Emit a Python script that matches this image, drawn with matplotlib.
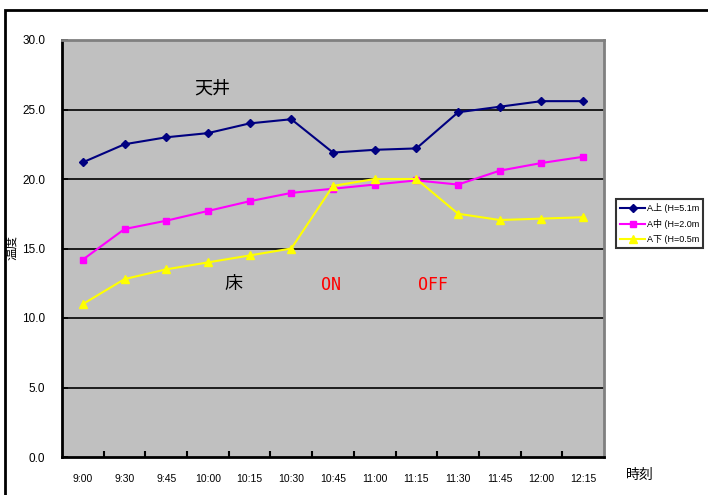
import matplotlib
matplotlib.use('Agg')
import matplotlib.pyplot as plt
from matplotlib.patches import Rectangle

plt.rcParams['font.family'] = ['Liberation Sans', 'Noto Sans CJK JP', 'DejaVu Sans']

### Data
times = ['9:00', '9:30', '9:45', '10:00', '10:15', '10:30', '10:45',
         '11:00', '11:15', '11:30', '11:45', '12:00', '12:15']
a_top = [21.2, 22.5, 23.0, 23.3, 24.0, 24.3, 21.9, 22.1, 22.2, 24.8, 25.2, 25.6, 25.6]
a_mid = [14.2, 16.4, 17.0, 17.7, 18.4, 19.0, 19.3, 19.6, 19.9, 19.6, 20.6, 21.15, 21.6]
a_low = [11.0, 12.8, 13.5, 14.0, 14.5, 15.0, 19.5, 20.0, 20.0, 17.5, 17.05, 17.15, 17.25]
labels = ['A上 (H=5.1m', 'A中 (H=2.0m', 'A下 (H=0.5m']
yticks = [0, 5, 10, 15, 20, 25, 30]

fig = plt.figure(figsize=(7.08, 4.95), dpi=100)
fig.patch.set_facecolor('white')

### outer frame (right/bottom edges fall outside the picture)
fig.patches.append(Rectangle((5/708, -0.1), 1.2, 1.1 - 10/495,
                             transform=fig.transFigure, fill=False,
                             edgecolor='black', lw=2))

ax = fig.add_axes([62/708, 1-457/495, (604-62)/708, (457-40)/495])
ax.set_facecolor('#C0C0C0')

x = list(range(len(times)))
ax.plot(x, a_top, color='#000080', marker='D', markersize=4.5, lw=1.5, label=labels[0])
ax.plot(x, a_mid, color='#FF00FF', marker='s', markersize=5, lw=1.5, label=labels[1])
ax.plot(x, a_low, color='#FFFF00', marker='^', markersize=6, lw=1.5, label=labels[2])

ax.set_xlim(-0.5, len(times)-0.5)
ax.set_ylim(0, 30)
ax.set_yticks(yticks)
ax.set_yticklabels(['%.1f' % v for v in yticks], fontsize=8.5)
for v in yticks[1:-1]:
    ax.axhline(v, color='black', lw=1.2, zorder=1)

ax.set_xticks(x)
ax.set_xticklabels(times, fontsize=7.5, stretch='condensed')
ax.tick_params(axis='x', which='major', length=0, pad=12)
ax.set_xticks([i+0.5 for i in range(len(times)-1)], minor=True)
ax.tick_params(axis='x', which='minor', direction='in', length=4, width=1.5)
ax.tick_params(axis='y', length=4, width=1.2, direction='in', pad=12)

for s in ['left', 'bottom']:
    ax.spines[s].set_linewidth(2)
    ax.spines[s].set_color('black')
for s in ['top', 'right']:
    ax.spines[s].set_linewidth(2)
    ax.spines[s].set_color('#808080')

### annotations
ax.text(3.1, 26.5, '天井', fontsize=13, ha='center', va='center')
ax.text(3.6, 12.4, '床', fontsize=13, ha='center', va='center')
ax.text(5.95, 12.4, 'ON', fontsize=12, color='red', family='DejaVu Sans Mono',
        ha='center', va='center')
ax.text(8.4, 12.4, 'OFF', fontsize=12, color='red', family='DejaVu Sans Mono',
        ha='center', va='center')

fig.text(640/708, 1-475/495, '時刻', fontsize=10, ha='center', va='center')
fig.text(12/708, 1-248/495, '温度', fontsize=9, rotation=90, ha='center', va='center')

leg = ax.legend(loc='upper left', bbox_to_anchor=(616/708, 1-199/495),
                bbox_transform=fig.transFigure, fontsize=6.5, frameon=True,
                fancybox=False, borderaxespad=0, handlelength=2.8,
                handletextpad=0.2, borderpad=0.45, labelspacing=0.65)
leg.get_frame().set_edgecolor('black')
leg.get_frame().set_linewidth(1.5)

fig.savefig('out.png', dpi=100)
